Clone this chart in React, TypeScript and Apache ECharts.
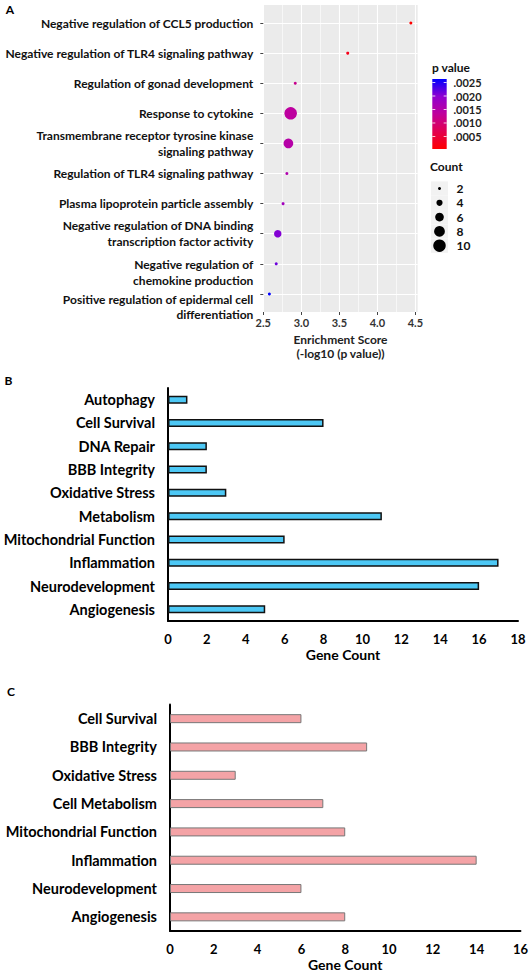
import React, { useEffect, useRef } from 'react';
import * as echarts from 'echarts';

// ---------- Panel A data ----------
const termsA = [
  'Negative regulation of CCL5 production',
  'Negative regulation of TLR4 signaling pathway',
  'Regulation of gonad development',
  'Response to cytokine',
  'Transmembrane receptor tyrosine kinase\nsignaling pathway',
  'Regulation of TLR4 signaling pathway',
  'Plasma lipoprotein particle assembly',
  'Negative regulation of DNA binding\ntranscription factor activity',
  'Negative regulation of\nchemokine production',
  'Positive regulation of epidermal cell\ndifferentiation',
];
const enrichmentScores = [4.44, 3.61, 2.92, 2.86, 2.83, 2.81, 2.76, 2.69, 2.67, 2.58];
const geneCountsA = [2, 2, 2, 10, 7, 2, 2, 5, 2, 2];
const xTicksA = [2.5, 3.0, 3.5, 4.0, 4.5];
const pTickValues = [0.0025, 0.002, 0.0015, 0.001, 0.0005];
const pTickLabels = ['.0025', '.0020', '.0015', '.0010', '.0005'];
const countLegendValues = [2, 4, 6, 8, 10];

// ---------- Panel B data ----------
const categoriesB = [
  'Autophagy', 'Cell Survival', 'DNA Repair', 'BBB Integrity', 'Oxidative Stress',
  'Metabolism', 'Mitochondrial Function', 'Inflammation', 'Neurodevelopment', 'Angiogenesis',
];
const geneCountsB = [1, 8, 2, 2, 3, 11, 6, 17, 16, 5];

// ---------- Panel C data ----------
const categoriesC = [
  'Cell Survival', 'BBB Integrity', 'Oxidative Stress', 'Cell Metabolism',
  'Mitochondrial Function', 'Inflammation', 'Neurodevelopment', 'Angiogenesis',
];
const geneCountsC = [6, 9, 3, 7, 8, 14, 6, 8];

// colour scale red (low p) -> blue (high p)
const pColorStops = ['#ff0000', '#e2004f', '#c0009b', '#9000d0', '#0000ff'];
const FONT = 'Lato, "Open Sans", sans-serif';

function dotDiameter(c: number) {
  const t = (Math.sqrt(c) - Math.sqrt(2)) / (Math.sqrt(10) - Math.sqrt(2));
  return 3 + 9.5 * t;
}

export default function App() {
  const ref = useRef<HTMLDivElement>(null);

  useEffect(() => {
    if (!ref.current) return;
    const chart = echarts.init(ref.current, undefined, { renderer: 'svg' });

    const pValues = enrichmentScores.map((s) => Math.pow(10, -s));
    const pMin = Math.min(...pValues);
    const pMax = Math.max(...pValues);
    const rowsA = termsA.map((_, i) => i + 1);

    // grid A geometry
    const gA = { left: 263.3, top: 5, width: 154.4, height: 307 };

    // colour bar geometry
    const cb = { x: 432.3, y: 79, w: 14.4, h: 70 };
    const pToY = (v: number) => cb.y + cb.h * (pMax - v) / (pMax - pMin);

    const graphics: any[] = [];
    const letter = (t: string, x: number, y: number) => ({
      type: 'text', style: { text: t, x, y, font: `bold 12px ${FONT}`, fill: '#000', align: 'center', verticalAlign: 'middle' },
    });
    graphics.push(letter('A', 10, 9));
    graphics.push(letter('B', 8.5, 380.5));
    graphics.push(letter('C', 11, 691.5));

    // p value colourbar
    graphics.push({
      type: 'text', style: { text: 'p value', x: 432, y: 67.5, font: `bold 12px ${FONT}`, fill: '#111', align: 'left', verticalAlign: 'middle' },
    });
    graphics.push({
      type: 'rect', shape: { x: cb.x, y: cb.y, width: cb.w, height: cb.h },
      style: {
        fill: new echarts.graphic.LinearGradient(0, 0, 0, 1,
          pColorStops.slice().reverse().map((c, i, arr) => ({ offset: i / (arr.length - 1), color: c }))),
      },
    });
    pTickValues.forEach((v, i) => {
      const y = pToY(v);
      graphics.push({ type: 'line', shape: { x1: cb.x, y1: y, x2: cb.x + 3, y2: y }, style: { stroke: 'rgba(255,255,255,0.8)', lineWidth: 1 } });
      graphics.push({ type: 'line', shape: { x1: cb.x + cb.w - 3, y1: y, x2: cb.x + cb.w, y2: y }, style: { stroke: 'rgba(255,255,255,0.8)', lineWidth: 1 } });
      graphics.push({
        type: 'text', style: { text: pTickLabels[i], x: 453.5, y, font: `bold 11px ${FONT}`, fill: '#222', align: 'left', verticalAlign: 'middle' },
      });
    });

    // count size legend
    graphics.push({
      type: 'text', style: { text: 'Count', x: 430, y: 166, font: `bold 12px ${FONT}`, fill: '#111', align: 'left', verticalAlign: 'middle' },
    });
    countLegendValues.forEach((c, i) => {
      const cy = 188.5 + i * 14.3;
      graphics.push({ type: 'rect', shape: { x: 431, y: cy - 7.1, width: 17, height: 14.2 }, style: { fill: '#f2f2f2' } });
      graphics.push({ type: 'circle', shape: { cx: 439.5, cy, r: dotDiameter(c) / 2 }, style: { fill: '#000' } });
      graphics.push({
        type: 'text', style: { text: String(c), x: 456.5, y: cy, font: `bold 12px ${FONT}`, fill: '#111', align: 'left', verticalAlign: 'middle' },
      });
    });

    const labelA = (v: number) => {
      const i = Math.round(v) - 1;
      const name = termsA[i] ?? '';
      if (i === 9) return '{sp26| }\n' + name;
      if (i === 8) return '{sp17| }\n' + name;
      return name;
    };

    const baseLabelA = {
      showMinLabel: true, showMaxLabel: true, hideOverlap: false,
      formatter: labelA, margin: 10, color: '#111', fontWeight: 'bold', fontSize: 12, lineHeight: 15.5,
      align: 'right', fontFamily: FONT,
      rich: { sp26: { lineHeight: 26, fontSize: 2 }, sp17: { lineHeight: 17, fontSize: 2 } },
    };
    // label-only axes, so that the two lowered labels are drawn independently
    const labelOnlyAxis = (vals: number[]) => ({
      gridIndex: 0, type: 'value', inverse: true, min: 0.4, max: 10.6, position: 'left', offset: 0,
      axisLine: { show: false }, axisTick: { show: false }, splitLine: { show: false },
      axisLabel: { ...baseLabelA, customValues: vals },
    });

    const option: any = {
      animation: false,
      backgroundColor: '#ffffff',
      textStyle: { fontFamily: FONT },
      grid: [
        { ...gA, show: true, backgroundColor: '#ebebeb', borderWidth: 0, containLabel: false },
        { left: 168, right: 13, top: 388, height: 233, containLabel: false },
        { left: 170, right: 10, top: 704.5, height: 226.5, containLabel: false },
      ],
      visualMap: [{
        show: false, type: 'continuous', seriesIndex: 0, dimension: 3,
        min: pMin, max: pMax, inRange: { color: pColorStops },
      }],
      xAxis: [
        {
          gridIndex: 0, type: 'value', min: 2.5, max: 4.53, interval: 0.5,
          axisLine: { show: false },
          axisTick: { show: true, length: 3, customValues: xTicksA, lineStyle: { color: '#444' } },
          axisLabel: { customValues: xTicksA, formatter: (v: number) => v.toFixed(1), margin: 5, color: '#333', fontWeight: 'bold', fontSize: 11, fontFamily: FONT },
          splitLine: { show: true, lineStyle: { color: '#ffffff', width: 1.1 } },
          minorTick: { show: false, splitNumber: 2 },
          minorSplitLine: { show: true, lineStyle: { color: '#ffffff', width: 0.6 } },
          name: 'Enrichment Score\n(-log10 (p value))', nameLocation: 'middle', nameGap: 20,
          nameTextStyle: { fontWeight: 'bold', fontSize: 12, color: '#222', lineHeight: 14, fontFamily: FONT },
        },
        {
          gridIndex: 1, type: 'value', min: 0, max: 18, interval: 2,
          axisLine: { show: true, lineStyle: { color: '#000', width: 2 } },
          axisTick: { show: false },
          splitLine: { show: false },
          axisLabel: { color: '#000', fontWeight: 'bold', fontSize: 13, margin: 11, fontFamily: FONT },
          name: 'Gene Count', nameLocation: 'middle', nameGap: 26,
          nameTextStyle: { fontWeight: 'bold', fontSize: 14, color: '#000', fontFamily: FONT },
        },
        {
          gridIndex: 2, type: 'value', min: 0, max: 16, interval: 2,
          axisLine: { show: true, lineStyle: { color: '#000', width: 2 } },
          axisTick: { show: false },
          splitLine: { show: false },
          axisLabel: { color: '#000', fontWeight: 'bold', fontSize: 13, margin: 11, fontFamily: FONT },
          name: 'Gene Count', nameLocation: 'middle', nameGap: 26.5,
          nameTextStyle: { fontWeight: 'bold', fontSize: 14, color: '#000', fontFamily: FONT },
        },
      ],
      yAxis: [
        {
          gridIndex: 0, type: 'value', inverse: true, min: 0.4, max: 10.6, position: 'left', offset: 0,
          axisLine: { show: false },
          axisTick: { show: true, length: 3, customValues: rowsA, lineStyle: { color: '#444' } },
          axisLabel: { ...baseLabelA, customValues: rowsA.slice(0, 8) },
          splitLine: { show: true, lineStyle: { color: '#ffffff', width: 1.1 } },
        },
        {
          gridIndex: 1, type: 'category', inverse: true, data: categoriesB,
          axisLine: { show: true, lineStyle: { color: '#000', width: 2 } },
          axisTick: { show: false },
          axisLabel: { color: '#000', fontWeight: 'bold', fontSize: 14.5, margin: 13, fontFamily: FONT, interval: 0 },
        },
        {
          gridIndex: 2, type: 'category', inverse: true, data: categoriesC,
          axisLine: { show: true, lineStyle: { color: '#000', width: 2 } },
          axisTick: { show: false },
          axisLabel: { color: '#000', fontWeight: 'bold', fontSize: 14.5, margin: 13, fontFamily: FONT, interval: 0 },
        },
        labelOnlyAxis([rowsA[8]]),
        labelOnlyAxis([rowsA[9]]),
      ],
      series: [
        {
          type: 'scatter', xAxisIndex: 0, yAxisIndex: 0,
          data: enrichmentScores.map((s, i) => [s, rowsA[i], geneCountsA[i], pValues[i]]),
          symbol: 'circle',
          symbolSize: (v: number[]) => dotDiameter(v[2]),
          itemStyle: { opacity: 1 },
        },
        {
          type: 'bar', xAxisIndex: 1, yAxisIndex: 1, data: geneCountsB, barWidth: 8,
          itemStyle: { color: '#4dc8f5', borderColor: '#111', borderWidth: 1.5 },
        },
        {
          type: 'bar', xAxisIndex: 2, yAxisIndex: 2, data: geneCountsC, barWidth: 9,
          itemStyle: { color: '#f4a3a6', borderColor: '#777', borderWidth: 1 },
        },
      ],
      graphic: graphics,
    };

    chart.setOption(option);
    return () => chart.dispose();
  }, []);

  return (
    <div
      ref={ref}
      style={{ position: 'absolute', left: 0, top: 0, width: 531, height: 975, background: '#fff' }}
    />
  );
}
